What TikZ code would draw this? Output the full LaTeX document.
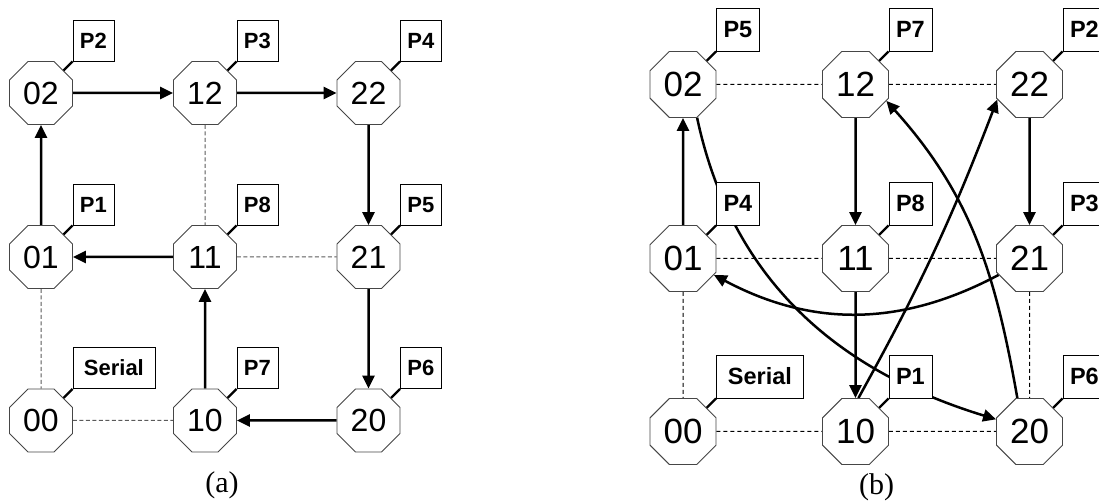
\documentclass[tikz,border=0pt]{standalone}
\usepackage{fontspec}
\setmainfont{Liberation Sans}
\newfontfamily\capfont{Liberation Serif}
\usetikzlibrary{shapes.geometric,arrows.meta}
\pgfdeclarelayer{wires}
\pgfsetlayers{wires,main}
\definecolor{rim}{RGB}{70,70,70}
\definecolor{gridline}{RGB}{90,90,90}
\tikzset{
  oct/.style={regular polygon, regular polygon sides=8, inner sep=0pt,
    draw=rim, line width=0.9pt, fill=white},
  octA/.style={oct, minimum size=68.2pt, font=\fontsize{32}{32}\selectfont},
  octB/.style={oct, minimum size=71.4pt, font=\fontsize{35}{35}\selectfont},
  tagbox/.style={rectangle, draw=black, line width=0.8pt, fill=white,
    inner sep=0pt, anchor=south west},
  tagA/.style={tagbox, minimum width=41pt, minimum height=41pt,
    font=\fontsize{22}{22}\selectfont\bfseries},
  tagB/.style={tagbox, minimum width=43pt, minimum height=43pt,
    font=\fontsize{23.5}{23.5}\selectfont\bfseries},
  tagline/.style={line width=2.2pt},
  arr/.style={line width=2.5pt, -{Triangle[length=13pt,width=12pt]}},
  gridlink/.style={line width=1pt, dash pattern=on 4pt off 2.5pt},
  captext/.style={font=\capfont\fontsize{30}{30}\selectfont, anchor=base, inner sep=0pt},
}
\begin{document}
\begin{tikzpicture}[x=1pt,y=1pt]
\useasboundingbox (0,0) rectangle (1099,502);

% ---------- (a) serial ordering of the 3x3 mesh ----------
\node[octA] (a02) at (41,409)    {02};
\node[octA] (a12) at (205,409)   {12};
\node[octA] (a22) at (368.5,409) {22};
\node[octA] (a01) at (41,245)    {01};
\node[octA] (a11) at (205,245)   {11};
\node[octA] (a21) at (368.5,245) {21};
\node[octA] (a00) at (41,81.5)   {00};
\node[octA] (a10) at (205,81.5)  {10};
\node[octA] (a20) at (368.5,81.5){20};

\foreach \n/\t in {a02/P2, a12/P3, a22/P4, a01/P1, a11/P8, a21/P5, a10/P7, a20/P6} {
  \node[tagA] (t\n) at ([shift={(31.5,31.5)}]\n.center) {\t};
  \draw[tagline] (t\n.south west) -- (\n);
}
\node[tagA, minimum width=82pt] (ta00) at ([shift={(31.5,31.5)}]a00.center) {Serial};
\draw[tagline] (ta00.south west) -- (a00);

\begin{pgfonlayer}{wires}
  \draw[gridlink, draw=gridline] (a12) -- (a11);
  \draw[gridlink, draw=gridline] (a11) -- (a21);
  \draw[gridlink, draw=gridline] (a01) -- (a00);
  \draw[gridlink, draw=gridline] (a00) -- (a10);
  \draw[arr] (a02) -- (a12);
  \draw[arr] (a12) -- (a22);
  \draw[arr] (a22) -- (a21);
  \draw[arr] (a21) -- (a20);
  \draw[arr] (a20) -- (a10);
  \draw[arr] (a10) -- (a11);
  \draw[arr] (a11) -- (a01);
  \draw[arr] (a01) -- (a02);
\end{pgfonlayer}

\node[captext] (capa) at (222,9.3) {(a)};

% ---------- (b) parallel ordering of the 3x3 mesh ----------
\node[octB] (b02) at (683,417.5)    {02};
\node[octB] (b12) at (855.5,417.5)  {12};
\node[octB] (b22) at (1029.5,417.5) {22};
\node[octB] (b01) at (683,243.5)    {01};
\node[octB] (b11) at (855.5,243.5)  {11};
\node[octB] (b21) at (1029.5,243.5) {21};
\node[octB] (b00) at (683,70.5)     {00};
\node[octB] (b10) at (855.5,70.5)   {10};
\node[octB] (b20) at (1029.5,70.5)  {20};

\foreach \n/\t in {b02/P5, b12/P7, b22/P2, b01/P4, b11/P8, b21/P3, b10/P1, b20/P6} {
  \node[tagB] (t\n) at ([shift={(33,33)}]\n.center) {\t};
  \draw[tagline] (t\n.south west) -- (\n);
}
\node[tagB, minimum width=87pt] (tb00) at ([shift={(33,33)}]b00.center) {Serial};
\draw[tagline] (tb00.south west) -- (b00);

\begin{pgfonlayer}{wires}
  \draw[gridlink, dash pattern=on 4pt off 3pt] (b02) -- (b12);
  \draw[gridlink, dash pattern=on 4pt off 3pt] (b12) -- (b22);
  \draw[gridlink, dash pattern=on 4pt off 3pt] (b01) -- (b11);
  \draw[gridlink, dash pattern=on 4pt off 3pt] (b11) -- (b21);
  \draw[gridlink, dash pattern=on 4pt off 3pt] (b00) -- (b10);
  \draw[gridlink, dash pattern=on 4pt off 3pt] (b10) -- (b20);
  \draw[gridlink, dash pattern=on 4pt off 3pt] (b01) -- (b00);
  \draw[gridlink, dash pattern=on 4pt off 3pt] (b21) -- (b20);
  \draw[arr] (b01) -- (b02);
  \draw[arr] (b12) -- (b11);
  \draw[arr] (b11) -- (b10);
  \draw[arr] (b22) -- (b21);
  \draw[arr] (b02.-67) to[out=-78, in=163] (b20.160);
  \draw[arr] (b21) to[bend left=28] (b01);
  \draw[arr] (b10.85) to[bend right=4] (b22.205);
  \draw[arr] (b20.110) to[out=100, in=-48] (b12.-28);
\end{pgfonlayer}

\node[captext] (capb) at (876.5,7.3) {(b)};
\end{tikzpicture}
\end{document}
